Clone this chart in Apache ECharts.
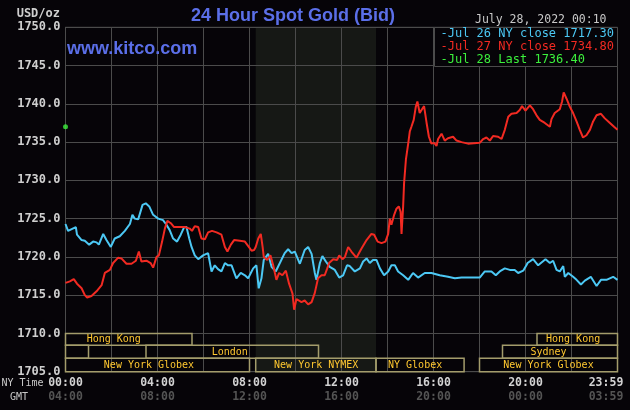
<!DOCTYPE html>
<html><head><meta charset="utf-8">
<script src="https://cdn.jsdelivr.net/npm/echarts@6/dist/echarts.min.js"></script>
<style>html,body{margin:0;padding:0;background:#060408;}#c{width:630px;height:410px;}</style>
</head><body><div id="c"></div>
<script>
// ---------- text ----------
const chartTitle = '24 Hour Spot Gold (Bid)';
const siteLabel = 'www.kitco.com';
const stampLabel = 'July 28, 2022 00:10';
const unitLabel = 'USD/oz';
const legendLabels = ['-Jul 26 NY close 1717.30', '-Jul 27 NY close 1734.80', '-Jul 28 Last 1736.40'];
const nyTimeTicks = ['00:00', '04:00', '08:00', '12:00', '16:00', '20:00', '23:59'];
const gmtTicks = ['04:00', '08:00', '12:00', '16:00', '20:00', '00:00', '03:59'];
const tickHours = [0, 4, 8, 12, 16, 20, 23.5];

// ---------- series (hours since 00:00 NY time, USD/oz) ----------
const jul26Hours = [0,0.11,0.45,0.5,0.7,0.84,1.03,1.2,1.35,1.45,1.64,1.78,1.97,2.14,2.36,2.58,2.8,2.91,3.01,3.16,3.35,3.49,3.64,3.81,4.03,4.24,4.39,4.53,4.68,4.85,5.01,5.16,5.26,5.38,5.48,5.62,5.77,5.98,6.2,6.27,6.35,6.49,6.63,6.78,6.93,7.07,7.22,7.43,7.62,7.8,7.94,8.09,8.16,8.3,8.4,8.52,8.62,8.81,8.96,9.14,9.32,9.53,9.68,9.83,9.97,10.19,10.4,10.55,10.7,10.84,10.91,11.06,11.17,11.32,11.49,11.71,11.9,12.07,12.24,12.36,12.58,12.8,12.94,13.09,13.23,13.37,13.52,13.67,13.85,14.03,14.17,14.32,14.46,14.68,14.9,15.11,15.33,15.62,15.91,16.27,16.63,16.93,17.22,18.01,18.23,18.52,18.71,18.88,19.1,19.32,19.53,19.68,19.9,20.04,20.09,20.33,20.55,20.87,21.06,21.2,21.35,21.49,21.64,21.71,21.86,22.07,22.22,22.41,22.58,22.84,23.09,23.28,23.52,23.81,24];
const jul26Values = [1724.3,1723.4,1723.9,1722.9,1722.2,1722.1,1721.6,1722.0,1721.9,1721.6,1723.0,1722.2,1721.3,1722.4,1722.7,1723.4,1724.3,1725.5,1725.0,1724.9,1726.8,1727.0,1726.6,1725.5,1725.0,1724.8,1724.2,1723.5,1722.4,1722.0,1722.9,1723.9,1723.9,1722.4,1721.3,1720.2,1719.7,1720.2,1720.5,1720.5,1718.1,1718.9,1718.4,1718.1,1719.2,1718.9,1718.9,1717.2,1717.9,1717.6,1717.2,1718.1,1718.5,1718.9,1715.9,1717.2,1719.6,1720.4,1718.7,1718.1,1719.2,1720.5,1721.0,1720.5,1720.7,1719.1,1720.9,1721.3,1720.4,1717.9,1717.0,1719.2,1720.1,1719.4,1718.7,1718.3,1717.3,1717.6,1718.9,1718.8,1718.1,1718.5,1719.4,1719.8,1719.2,1719.6,1719.6,1718.5,1717.6,1718.1,1718.9,1718.9,1718.1,1717.6,1717.0,1717.9,1717.3,1717.9,1717.9,1717.6,1717.4,1717.2,1717.3,1717.3,1718.1,1718.1,1717.6,1718.1,1718.5,1718.3,1718.3,1717.9,1718.2,1718.9,1719.2,1719.7,1718.9,1719.7,1719.2,1719.5,1718.3,1718.1,1718.8,1717.4,1717.9,1717.4,1717.0,1716.4,1716.9,1717.4,1716.2,1717.0,1717.0,1717.4,1717.0];

const jul27Hours = [0,0.19,0.36,0.5,0.7,0.84,0.94,1.13,1.35,1.57,1.71,1.93,2.07,2.29,2.43,2.65,2.87,3.06,3.19,3.3,3.52,3.7,3.81,3.96,4.06,4.2,4.32,4.43,4.58,4.72,4.97,5.19,5.4,5.5,5.62,5.77,5.91,6.06,6.2,6.37,6.57,6.78,6.93,7.04,7.19,7.33,7.58,7.8,7.97,8.09,8.2,8.27,8.38,8.49,8.57,8.62,8.77,8.91,9.03,9.17,9.29,9.43,9.58,9.72,9.87,9.94,10.04,10.26,10.4,10.55,10.7,10.84,10.98,11.13,11.27,11.38,11.46,11.64,11.81,11.9,12.04,12.15,12.29,12.43,12.65,12.87,13.09,13.3,13.42,13.57,13.74,13.91,14.03,14.1,14.17,14.29,14.39,14.49,14.57,14.61,14.68,14.72,14.8,14.9,14.97,15.04,15.14,15.23,15.3,15.4,15.5,15.59,15.7,15.8,15.91,16.03,16.13,16.2,16.35,16.49,16.63,16.85,17.0,17.22,17.5,18.01,18.16,18.3,18.45,18.59,18.81,18.96,19.1,19.25,19.39,19.61,19.75,19.85,20.0,20.19,20.33,20.48,20.62,20.84,21.06,21.13,21.27,21.49,21.59,21.66,21.78,21.93,22.07,22.22,22.36,22.5,22.65,22.8,22.94,23.09,23.28,23.45,23.67,23.85,24];
const jul27Values = [1716.6,1716.8,1717.1,1716.5,1715.9,1715.0,1714.7,1714.9,1715.5,1716.3,1717.9,1718.3,1719.2,1719.9,1719.8,1719.1,1719.1,1719.5,1720.7,1719.4,1719.5,1719.2,1718.6,1720.0,1720.2,1722.0,1723.7,1724.7,1724.4,1723.9,1723.9,1723.9,1723.7,1723.4,1724.0,1723.9,1722.4,1722.3,1723.2,1723.4,1723.2,1722.9,1721.3,1720.7,1721.6,1722.2,1722.1,1722.0,1721.3,1720.8,1720.9,1721.3,1722.4,1723.0,1721.3,1720.0,1719.6,1720.2,1718.9,1717.0,1717.9,1717.6,1718.2,1716.5,1715.2,1713.1,1714.5,1714.1,1714.3,1713.8,1714.1,1715.3,1717.2,1717.6,1717.6,1718.5,1719.2,1719.7,1719.6,1720.2,1719.7,1720.0,1721.3,1720.7,1719.9,1721.1,1722.2,1723.0,1722.9,1722.0,1721.8,1722.0,1723.0,1725.0,1724.2,1725.5,1726.3,1726.6,1725.9,1723.0,1726.6,1729.6,1732.7,1734.8,1736.4,1737.0,1737.9,1739.6,1740.3,1738.8,1739.3,1739.7,1737.5,1735.7,1734.8,1734.9,1734.5,1735.4,1736.1,1735.2,1735.5,1735.7,1735.2,1735.0,1734.8,1734.9,1735.4,1735.6,1735.2,1735.8,1735.7,1735.4,1736.6,1738.3,1738.7,1738.8,1739.2,1739.7,1739.1,1739.8,1739.3,1738.5,1737.9,1737.5,1737.0,1738.0,1738.8,1739.3,1740.3,1741.5,1740.7,1739.6,1738.8,1737.7,1736.6,1735.6,1735.9,1736.6,1737.7,1738.5,1738.7,1738.1,1737.5,1737.0,1736.6];

const jul28Hours = [0];
const jul28Values = [1737.0];

// ---------- trading sessions ----------
const nymexHours = [8.27, 13.5];
const marketNames = ['Hong Kong', '', 'London', 'New York Globex', 'New York NYMEX', 'NY Globex', 'New York Globex', 'Sydney', 'Hong Kong'];
const marketStart = [0, 0, 3.5, 0, 8.27, 13.5, 18, 19, 20.5];
const marketEnd = [5.5, 1, 11, 8, 13.5, 17.33, 24, 24, 24];
const marketRow = [0, 1, 1, 2, 2, 2, 2, 1, 0];
const marketLabelAt = [2.1, 0.5, 7.14, 3.63, 10.9, 15.2, 21.0, 21.0, 22.07];

// ---------- build ----------
const zip = (a, b) => a.map((h, i) => [h, b[i]]);
const MONO = '"DejaVu Sans Mono", monospace';
const rowEdges = [0, 0.31, 0.65, 1];

const chart = echarts.init(document.getElementById('c'), null, {renderer: 'canvas'});
chart.setOption({
  backgroundColor: '#060408',
  animation: false,
  grid: {left: 65.5, top: 27.3, width: 552, height: 344.4, show: true, borderColor: '#4b4b4b', borderWidth: 1},
  xAxis: [{
    type: 'value', min: 0, max: 24, interval: 2, position: 'bottom',
    axisLine: {show: true, lineStyle: {color: '#4b4b4b'}}, axisTick: {show: false}, axisLabel: {show: false},
    splitLine: {show: true, lineStyle: {color: '#4b4b4b', width: 1}}
  }, {
    type: 'value', min: 0, max: 24, position: 'bottom',
    axisLine: {show: false}, axisTick: {show: false}, splitLine: {show: false},
    axisLabel: {
      show: true, margin: 4, customValues: tickHours,
      formatter: v => { const i = tickHours.indexOf(v); return i < 0 ? '' : '{a|' + nyTimeTicks[i] + '}\n{b|' + gmtTicks[i] + '}'; },
      rich: {
        a: {fontFamily: MONO, fontSize: 11.5, fontWeight: 'bold', color: '#d2d2d2', lineHeight: 14},
        b: {fontFamily: MONO, fontSize: 11.5, fontWeight: 'bold', color: '#545454', lineHeight: 14}
      }
    }
  }],
  yAxis: {
    type: 'value', min: 1705, max: 1750, interval: 5,
    axisLine: {show: true, lineStyle: {color: '#4b4b4b'}}, axisTick: {show: false},
    splitLine: {show: true, lineStyle: {color: '#4b4b4b', width: 1}},
    axisLabel: {margin: 5, fontFamily: MONO, fontSize: 12, fontWeight: 'bold', color: '#cfcfcf', formatter: v => v.toFixed(1)}
  },
  series: [
    {
      type: 'custom', name: 'nymex', z: -1, silent: true, xAxisIndex: 0,
      data: [nymexHours],
      renderItem: (params, api) => {
        const a = api.coord([api.value(0), 1750]);
        const b = api.coord([api.value(1), 1705]);
        return {type: 'rect', shape: {x: a[0], y: a[1], width: b[0] - a[0], height: b[1] - a[1]}, style: {fill: '#161815'}};
      }
    },
    {
      type: 'custom', name: 'markets', z: 3, silent: true, xAxisIndex: 0,
      data: marketStart.map((s, i) => [s, marketEnd[i], marketRow[i], marketLabelAt[i]]),
      renderItem: (params, api) => {
        const i = params.dataIndex;
        const top = api.coord([0, 1710])[1];
        const bottom = api.coord([0, 1705])[1];
        const h = bottom - top;
        const row = api.value(2);
        const y0 = top + rowEdges[row] * h, y1 = top + rowEdges[row + 1] * h;
        const x0 = api.coord([api.value(0), 1705])[0];
        const x1 = api.coord([api.value(1), 1705])[0];
        const lx = api.coord([api.value(3), 1705])[0];
        return {
          type: 'group',
          children: [
            {type: 'rect', shape: {x: x0, y: y0, width: x1 - x0, height: y1 - y0},
             style: {fill: null, stroke: '#a39c6b', lineWidth: 1.5}},
            {type: 'text', style: {text: marketNames[i], x: lx, y: (y0 + y1) / 2 + 0.5, fill: '#ffc830',
             font: '10px ' + MONO, align: 'center', verticalAlign: 'middle'}}
          ]
        };
      }
    },
    {
      type: 'line', name: 'Jul 26', data: zip(jul26Hours, jul26Values), showSymbol: false, z: 4,
      lineStyle: {color: '#4cc8f4', width: 2}, itemStyle: {color: '#4cc8f4'}
    },
    {
      type: 'line', name: 'Jul 27', data: zip(jul27Hours, jul27Values), showSymbol: false, z: 5,
      lineStyle: {color: '#f22a22', width: 2}, itemStyle: {color: '#f22a22'}
    },
    {
      type: 'scatter', name: 'Jul 28', data: zip(jul28Hours, jul28Values), symbol: 'circle', symbolSize: 5, z: 6,
      itemStyle: {color: '#3cf03c'}
    }
  ],
  graphic: [
    {type: 'text', left: 'auto', x: 293, y: 16, style: {text: chartTitle, fill: '#5b6fe8', font: 'bold 18px "Liberation Sans", Arial, sans-serif', align: 'center', verticalAlign: 'middle'}},
    {type: 'text', x: 67, y: 49, z: 10, style: {text: siteLabel, fill: '#5b6fe8', font: 'bold 18px "Liberation Sans", Arial, sans-serif', align: 'left', verticalAlign: 'middle'}},
    {type: 'text', x: 475, y: 20, style: {text: stampLabel, fill: '#c8c8c8', font: '11.5px ' + MONO, align: 'left', verticalAlign: 'middle'}},
    {type: 'text', x: 60, y: 13.5, style: {text: unitLabel, fill: '#cfcfcf', font: 'bold 12px ' + MONO, align: 'right', verticalAlign: 'middle'}},
    {type: 'text', x: 1.5, y: 383, style: {text: 'NY Time', fill: '#c8c8c8', font: '10px ' + MONO, align: 'left', verticalAlign: 'middle'}},
    {type: 'text', x: 10, y: 397, style: {text: 'GMT', fill: '#c8c8c8', font: '10px ' + MONO, align: 'left', verticalAlign: 'middle'}},
    {type: 'rect', z: 20, shape: {x: 434.5, y: 27.5, width: 183, height: 39}, style: {fill: '#060408', stroke: '#4b4b4b', lineWidth: 1}},
    {type: 'text', z: 21, x: 440.5, y: 34, style: {text: legendLabels[0], fill: '#4cc8f4', font: '12px ' + MONO, align: 'left', verticalAlign: 'middle'}},
    {type: 'text', z: 21, x: 440.5, y: 46.5, style: {text: legendLabels[1], fill: '#f22a22', font: '12px ' + MONO, align: 'left', verticalAlign: 'middle'}},
    {type: 'text', z: 21, x: 440.5, y: 59.5, style: {text: legendLabels[2], fill: '#3cf03c', font: '12px ' + MONO, align: 'left', verticalAlign: 'middle'}}
  ]
});
</script>
</body></html>
